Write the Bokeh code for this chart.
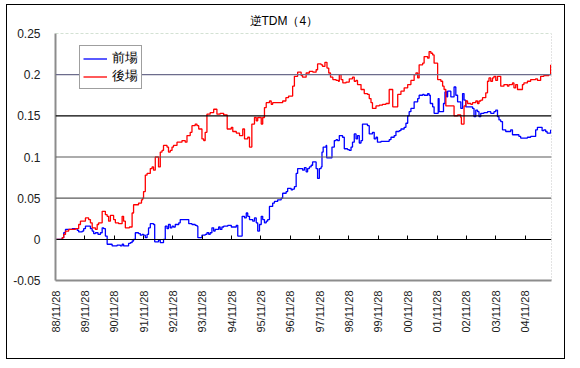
import math
from bokeh.plotting import figure
from bokeh.models import (Range1d, FixedTicker, LinearAxis, Span,
                          CustomJSTickFormatter, Legend, LegendItem)
from bokeh.embed import file_html
from bokeh.resources import INLINE

title_text = "逆TDM（4）"
series_names = ["前場", "後場"]
tick_labels = ["88/11/28", "89/11/28", "90/11/28", "91/11/28", "92/11/28",
               "93/11/28", "94/11/28", "95/11/28", "96/11/28", "97/11/28",
               "98/11/28", "99/11/28", "00/11/28", "01/11/28", "02/11/28",
               "03/11/28", "04/11/28"]
tick_positions = list(range(len(tick_labels)))   # years since 88/11/28
y_ticks = [-0.05, 0, 0.05, 0.1, 0.15, 0.2, 0.25]
x_end = 16.9

# 前場 (years since 88/11/28, value)
am_x = [0, 0.23, 0.28, 0.34, 0.57, 0.74, 0.79, 0.91, 0.96, 1.02,
        1.19, 1.25, 1.30, 1.36, 1.45, 1.53, 1.59, 1.64, 1.70, 1.76,
        1.93, 2.10, 2.21, 2.27, 2.32, 2.49, 2.55, 2.61, 2.66, 2.72,
        2.83, 2.89, 2.95, 3.00, 3.06, 3.12, 3.17, 3.23, 3.34, 3.38,
        3.51, 3.57, 3.68, 3.74, 3.80, 3.85, 3.91, 3.97, 4.02, 4.08,
        4.20, 4.25, 4.54, 4.65, 4.76, 4.82, 4.85, 4.99, 5.10, 5.16,
        5.22, 5.27, 5.33, 5.39, 5.44, 5.56, 5.61, 5.67, 5.73, 5.87,
        5.99, 6.16, 6.21, 6.36, 6.44, 6.50, 6.55, 6.61, 6.72, 6.78,
        6.84, 6.89, 6.95, 7.01, 7.06, 7.12, 7.18, 7.23, 7.29, 7.40,
        7.46, 7.57, 7.69, 7.74, 7.86, 7.91, 8.03, 8.08, 8.14, 8.20,
        8.25, 8.42, 8.48, 8.54, 8.59, 8.65, 8.71, 8.76, 8.88, 8.93,
        8.99, 9.05, 9.08, 9.12, 9.22, 9.24, 9.42, 9.50, 9.56, 9.61,
        9.67, 9.78, 9.84, 9.95, 10.01, 10.07, 10.12, 10.18, 10.24, 10.29,
        10.35, 10.41, 10.46, 10.63, 10.69, 10.80, 10.86, 10.92, 10.97, 11.09,
        11.37, 11.43, 11.54, 11.60, 11.71, 11.77, 11.88, 11.94, 12.00, 12.05,
        12.11, 12.22, 12.34, 12.39, 12.51, 12.56, 12.68, 12.73, 12.77, 12.85,
        12.90, 13.04, 13.07, 13.22, 13.27, 13.33, 13.36, 13.47, 13.58, 13.64,
        13.70, 13.81, 13.87, 13.92, 13.98, 14.21, 14.26, 14.32, 14.38, 14.43,
        14.49, 14.60, 14.72, 14.83, 14.94, 15.00, 15.06, 15.11, 15.17, 15.23,
        15.34, 15.51, 15.57, 15.79, 15.85, 16.08, 16.19, 16.36, 16.42, 16.58,
        16.64, 16.70, 16.75, 16.87]
am_y = [0, 0.002, 0.008, 0.012, 0.013, 0.011, 0.009, 0.010, 0.013, 0.016,
        0.013, 0.010, 0.007, 0.008, 0.006, 0.008, 0.014, 0.013, 0.004, -0.006,
        -0.008, -0.007, -0.008, -0.006, -0.008, -0.005, -0.004, -0.002, 0.000, 0.008,
        0.007, 0.005, 0.006, 0.005, 0.002, 0.006, 0.014, 0.019, 0.018, -0.003,
        -0.001, -0.004, 0.000, 0.016, 0.013, 0.018, 0.014, 0.016, 0.015, 0.018,
        0.020, 0.024, 0.019, 0.018, 0.017, 0.016, 0.002, 0.005, 0.006, 0.008,
        0.006, 0.008, 0.014, 0.010, 0.012, 0.015, 0.012, 0.015, 0.016, 0.017,
        0.015, 0.017, 0.004, 0.028, 0.026, 0.032, 0.028, 0.024, 0.022, 0.026,
        0.020, 0.010, 0.018, 0.028, 0.024, 0.020, 0.022, 0.024, 0.040, 0.044,
        0.046, 0.048, 0.050, 0.056, 0.058, 0.062, 0.060, 0.061, 0.064, 0.080,
        0.086, 0.084, 0.087, 0.082, 0.086, 0.088, 0.090, 0.094, 0.086, 0.074,
        0.086, 0.088, 0.106, 0.112, 0.114, 0.099, 0.112, 0.120, 0.121, 0.120,
        0.126, 0.124, 0.110, 0.109, 0.108, 0.112, 0.118, 0.128, 0.122, 0.126,
        0.117, 0.120, 0.140, 0.138, 0.128, 0.130, 0.122, 0.124, 0.118, 0.119,
        0.121, 0.124, 0.126, 0.131, 0.132, 0.134, 0.136, 0.141, 0.150, 0.155,
        0.159, 0.167, 0.171, 0.175, 0.176, 0.175, 0.177, 0.175, 0.165, 0.161,
        0.153, 0.171, 0.155, 0.165, 0.179, 0.173, 0.180, 0.173, 0.185, 0.175,
        0.167, 0.159, 0.177, 0.169, 0.161, 0.159, 0.149, 0.157, 0.155, 0.149,
        0.153, 0.154, 0.155, 0.153, 0.155, 0.157, 0.149, 0.145, 0.143, 0.133,
        0.131, 0.133, 0.127, 0.125, 0.123, 0.124, 0.125, 0.133, 0.136, 0.132,
        0.133, 0.131, 0.129, 0.133]

# 後場 (years since 88/11/28, value)
pm_x = [0, 0.23, 0.28, 0.34, 0.45, 0.68, 0.79, 0.85, 1.02, 1.13,
        1.19, 1.25, 1.36, 1.42, 1.47, 1.59, 1.70, 1.76, 1.81, 1.87,
        1.98, 2.04, 2.15, 2.27, 2.32, 2.38, 2.52, 2.61, 2.66, 2.83,
        2.93, 2.97, 3.00, 3.06, 3.12, 3.23, 3.29, 3.34, 3.40, 3.51,
        3.57, 3.63, 3.68, 3.80, 3.85, 3.91, 3.97, 4.02, 4.14, 4.31,
        4.42, 4.48, 4.59, 4.65, 4.76, 4.82, 4.88, 4.99, 5.05, 5.10,
        5.16, 5.27, 5.39, 5.50, 5.61, 5.73, 5.85, 5.99, 6.04, 6.16,
        6.27, 6.38, 6.44, 6.55, 6.61, 6.69, 6.78, 6.84, 6.89, 7.01,
        7.06, 7.12, 7.18, 7.29, 7.35, 7.40, 7.74, 7.85, 7.94, 8.08,
        8.14, 8.25, 8.37, 8.42, 8.54, 8.65, 8.77, 8.88, 8.93, 9.05,
        9.10, 9.18, 9.25, 9.31, 9.37, 9.45, 9.56, 9.64, 9.67, 9.73,
        9.79, 9.90, 10.01, 10.12, 10.18, 10.24, 10.29, 10.41, 10.52, 10.63,
        10.69, 10.75, 10.80, 10.92, 11.03, 11.14, 11.26, 11.37, 11.49, 11.66,
        11.77, 11.88, 12.00, 12.11, 12.22, 12.28, 12.34, 12.39, 12.51, 12.56,
        12.68, 12.73, 12.79, 12.85, 12.90, 13.02, 13.13, 13.19, 13.24, 13.30,
        13.58, 13.70, 13.81, 13.83, 13.92, 13.98, 14.04, 14.15, 14.21, 14.32,
        14.38, 14.43, 14.49, 14.55, 14.66, 14.72, 14.77, 14.83, 14.89, 14.94,
        15.00, 15.06, 15.17, 15.28, 15.40, 15.45, 15.57, 15.62, 15.68, 15.74,
        15.91, 15.96, 16.08, 16.19, 16.36, 16.42, 16.53, 16.64, 16.81, 16.87]
pm_y = [0, 0.002, 0.006, 0.010, 0.012, 0.013, 0.018, 0.022, 0.026, 0.024,
        0.020, 0.014, 0.012, 0.018, 0.020, 0.034, 0.030, 0.028, 0.022, 0.029,
        0.024, 0.020, 0.019, 0.028, 0.022, 0.014, 0.015, 0.032, 0.042, 0.044,
        0.048, 0.050, 0.058, 0.078, 0.080, 0.086, 0.088, 0.084, 0.100, 0.088,
        0.106, 0.108, 0.114, 0.112, 0.106, 0.108, 0.112, 0.114, 0.118, 0.120,
        0.118, 0.126, 0.130, 0.138, 0.140, 0.138, 0.134, 0.122, 0.120, 0.130,
        0.152, 0.154, 0.158, 0.152, 0.153, 0.151, 0.134, 0.136, 0.131, 0.129,
        0.126, 0.134, 0.122, 0.124, 0.112, 0.140, 0.148, 0.144, 0.148, 0.140,
        0.148, 0.160, 0.166, 0.168, 0.164, 0.166, 0.168, 0.172, 0.174, 0.186,
        0.198, 0.203, 0.199, 0.197, 0.202, 0.204, 0.203, 0.206, 0.213, 0.212,
        0.210, 0.215, 0.208, 0.202, 0.197, 0.194, 0.193, 0.192, 0.200, 0.194,
        0.190, 0.191, 0.195, 0.197, 0.192, 0.193, 0.188, 0.182, 0.177, 0.176,
        0.171, 0.166, 0.159, 0.162, 0.163, 0.164, 0.165, 0.182, 0.161, 0.176,
        0.180, 0.184, 0.188, 0.193, 0.200, 0.202, 0.196, 0.212, 0.214, 0.222,
        0.220, 0.228, 0.226, 0.224, 0.214, 0.194, 0.192, 0.186, 0.182, 0.162,
        0.150, 0.151, 0.148, 0.140, 0.162, 0.168, 0.165, 0.164, 0.166, 0.168,
        0.165, 0.168, 0.169, 0.172, 0.178, 0.192, 0.196, 0.192, 0.196, 0.198,
        0.193, 0.198, 0.186, 0.188, 0.186, 0.188, 0.190, 0.184, 0.188, 0.182,
        0.188, 0.190, 0.192, 0.194, 0.195, 0.193, 0.198, 0.199, 0.200, 0.212]

p = figure(width=559, height=355, output_backend="svg", toolbar_location=None,
           x_range=Range1d(0, x_end), y_range=Range1d(y_ticks[0], y_ticks[-1]),
           min_border_left=48, min_border_right=15, min_border_top=26,
           min_border_bottom=80, background_fill_color="white",
           border_fill_color="white", outline_line_color=None)
p.styles = {"border": "1px solid #000000", "margin-left": "6px", "margin-top": "4px"}

# title
p.title.text = title_text
p.title.text_font = "Liberation Sans"
p.title.text_font_size = "12px"
p.title.text_font_style = "normal"
p.title.text_color = "#000000"
p.title.align = "left"
p.title.offset = 194
p.title.standoff = 12

p.xgrid.visible = False
p.ygrid.visible = False

# y axis
p.yaxis.ticker = FixedTicker(ticks=y_ticks)
p.yaxis.formatter = CustomJSTickFormatter(code="return String(Number(tick.toFixed(2)));")
p.yaxis.axis_line_color = "#8c8c8c"
p.yaxis.axis_line_width = 2
p.yaxis.major_tick_line_color = None
p.yaxis.minor_tick_line_color = None
p.yaxis.major_tick_in = 0
p.yaxis.major_tick_out = 0
p.yaxis.major_label_standoff = 15
p.yaxis.major_label_text_font = "Liberation Sans"
p.yaxis.major_label_text_font_size = "12px"
p.yaxis.major_label_text_color = "#202020"

# x axis (labels at the bottom edge, reading bottom to top)
p.xaxis.ticker = FixedTicker(ticks=tick_positions)
p.xaxis.major_label_overrides = {t: lab for t, lab in zip(tick_positions, tick_labels)}
p.xaxis.major_label_orientation = math.pi / 2
p.xaxis.axis_line_color = "#8c8c8c"
p.xaxis.axis_line_width = 2
p.xaxis.major_tick_line_color = None
p.xaxis.minor_tick_line_color = None
p.xaxis.major_tick_in = 0
p.xaxis.major_tick_out = 0
p.xaxis.major_label_standoff = 10
p.xaxis.major_label_text_font = "Liberation Sans"
p.xaxis.major_label_text_font_size = "11px"
p.xaxis.major_label_text_color = "#202020"

# gridlines
grid_colors = ["#5a5a5a", "#5a5a5a", "#000000", "#6c6c8c"]
for loc, col in zip(y_ticks[2:6], grid_colors):
    p.add_layout(Span(location=loc, dimension="width", line_color=col, line_width=1.2))
p.add_layout(Span(location=y_ticks[-1], dimension="width", line_color="#a8c4a8",
                  line_width=1, line_dash="3 2"))
p.add_layout(Span(location=x_end, dimension="height", line_color="#909090",
                  line_width=1, line_dash="1 2"))

# zero axis with ticks
zero_axis = LinearAxis(fixed_location=0, ticker=FixedTicker(ticks=tick_positions),
                       axis_line_color="#000000", axis_line_width=1.2,
                       major_tick_in=4, major_tick_out=0,
                       major_tick_line_color="#000000", minor_tick_line_color=None,
                       major_label_text_font_size="0px", major_label_text_alpha=0)
p.add_layout(zero_axis, "below")

r_am = p.step(am_x, am_y, mode="after", line_color="#0000ff", line_width=1.3)
r_pm = p.step(pm_x, pm_y, mode="after", line_color="#ff0000", line_width=1.3)

legend = Legend(items=[LegendItem(label=series_names[0], renderers=[r_am]),
                       LegendItem(label=series_names[1], renderers=[r_pm])],
                location=(24, 191), orientation="vertical",
                border_line_color="#404040", border_line_width=1,
                background_fill_color="white", background_fill_alpha=1,
                label_text_font="Liberation Sans", label_text_font_size="13px",
                label_text_color="#000000", glyph_width=24, glyph_height=15,
                label_height=15, label_standoff=5, spacing=0, padding=3, margin=0)
p.add_layout(legend, "center")

open("out.html", "w").write(file_html(p, INLINE))
